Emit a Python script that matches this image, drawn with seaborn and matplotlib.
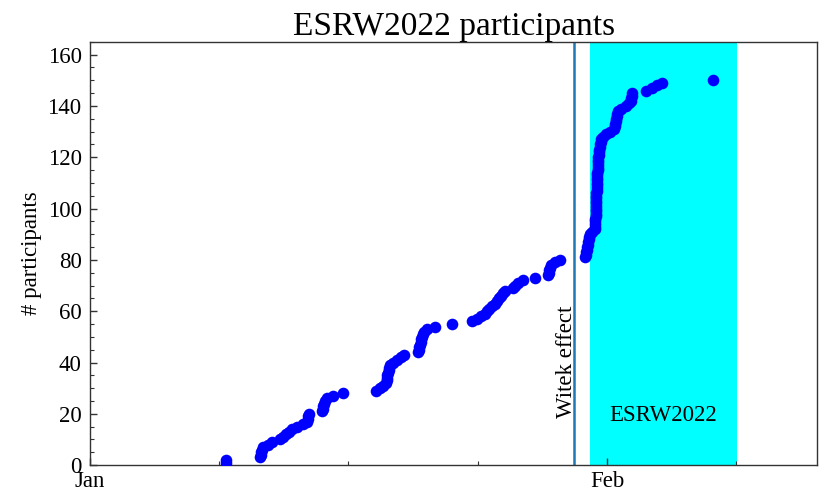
import numpy as np
import pandas as pd
import matplotlib
matplotlib.use("Agg")
import matplotlib.pyplot as plt
from matplotlib.ticker import AutoMinorLocator, FixedLocator
import seaborn as sns

# Registration times, in days since 1 January 2022 (one entry per participant)
reg_days = [
    8.15, 8.17,
    10.22, 10.25, 10.28, 10.32, 10.38,
    10.65, 10.9,
    11.4, 11.57, 11.75, 11.93, 12.1, 12.4, 12.77,
    13.0, 13.05, 13.1, 13.13,
    13.91,
    13.97, 14.0, 14.05, 14.12, 14.2,
    14.57, 15.17,
    17.15, 17.39, 17.57,
    17.75, 17.78, 17.8, 17.83, 17.86, 17.9, 17.95,
    17.99, 18.17, 18.41, 18.65, 18.82,
    19.66,
    19.72, 19.75, 19.78, 19.82, 19.86, 19.9, 19.95, 20.0,
    20.2, 20.68, 21.7,
    22.9, 23.2, 23.44, 23.68, 23.8, 23.92, 24.1, 24.28, 24.4, 24.52, 24.64, 24.76, 24.88,
    25.36, 25.48, 25.66, 25.96,
    26.68, 27.46, 27.52, 27.54, 27.58, 27.64, 27.88, 28.18,
    29.68, 29.74, 29.76, 29.78,
    29.8, 29.84, 29.88, 29.9, 29.92, 29.95,
    30.1, 30.28,
    30.29, 30.295, 30.30, 30.305, 30.31, 30.315, 30.32, 30.325, 30.33, 30.335, 30.34,
    30.35, 30.355, 30.36, 30.37, 30.375, 30.38, 30.39, 30.40, 30.41, 30.415, 30.42, 30.43,
    30.44, 30.45, 30.46, 30.47, 30.48, 30.49, 30.50, 30.52,
    30.55, 30.58, 30.61, 30.64,
    30.76, 30.94, 31.18, 31.41,
    31.47, 31.5, 31.53, 31.56, 31.59, 31.62, 31.65,
    31.83, 32.13, 32.31,
    32.43, 32.45, 32.47, 32.5,
    33.33, 33.69, 33.99, 34.29,
    37.35,
]

month_ticks = [0, 31]
month_labels = ["Jan", "Feb"]
witek_day = 29.0
workshop_start, workshop_end = 30.0, 38.8

df = pd.DataFrame({"day": reg_days})
df["participants"] = np.arange(1, len(df) + 1)

sns.set_style("white")
plt.rcParams["font.family"] = ["Liberation Serif", "DejaVu Serif"]
plt.rcParams["text.color"] = "black"
plt.rcParams["axes.labelcolor"] = "black"

fig, ax = plt.subplots(figsize=(8.33, 4.98), dpi=100)
fig.subplots_adjust(left=0.108, right=0.981, top=0.916, bottom=0.066)

ax.axvspan(workshop_start, workshop_end, color="#00ffff", lw=0, zorder=0)
ax.axvline(witek_day, color="#1f77b4", lw=1.8, zorder=1)

sns.scatterplot(data=df, x="day", y="participants", ax=ax,
                color="#0000ff", s=70, linewidth=0, zorder=3)

ax.set_xlim(0, 43.6)
ax.set_ylim(0, 165)
ax.xaxis.set_major_locator(FixedLocator(month_ticks))
ax.set_xticklabels(month_labels)
ax.xaxis.set_minor_locator(AutoMinorLocator())
ax.yaxis.set_major_locator(FixedLocator([0, 20, 40, 60, 80, 100, 120, 140, 160]))
ax.yaxis.set_minor_locator(AutoMinorLocator(4))
ax.tick_params(which="both", direction="in", colors="#333333", labelcolor="black",
               labelsize=16.5, bottom=True, left=True, top=False, right=False)
ax.tick_params(which="major", length=5, width=1)
ax.tick_params(which="minor", length=3, width=0.8)
ax.tick_params(axis="x", pad=4)
ax.tick_params(axis="y", pad=6)

for sp in ax.spines.values():
    sp.set_color("#333333")
    sp.set_linewidth(1.0)

ax.set_xlabel("")
ax.set_ylabel("# participants", fontsize=16.5, labelpad=4)
ax.set_title("ESRW2022 participants", fontsize=24, pad=5)

ax.text(28.6, 18.3, "Witek effect", rotation=90, ha="center", va="bottom", fontsize=16.5)
ax.text(34.35, 19.5, "ESRW2022", ha="center", va="center", fontsize=16.5)

fig.savefig("out.png", dpi=100)
